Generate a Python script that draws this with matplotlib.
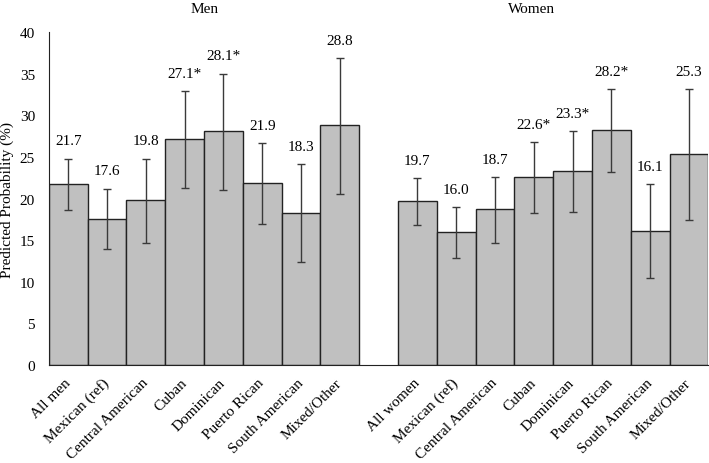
import matplotlib
matplotlib.use("Agg")
import matplotlib.pyplot as plt
import numpy as np

plt.rcParams["font.family"] = ["Liberation Serif", "DejaVu Serif"]

groups = ["All", "Mexican (ref)", "Central American", "Cuban", "Dominican",
          "Puerto Rican", "South American", "Mixed/Other"]
men_labels = ["All men"] + groups[1:]
women_labels = ["All women"] + groups[1:]

men_vals = [21.7, 17.6, 19.8, 27.1, 28.1, 21.9, 18.3, 28.8]
men_lo = [18.6, 13.9, 14.7, 21.3, 21.0, 17.0, 12.4, 20.6]
men_hi = [24.8, 21.2, 24.8, 32.9, 35.0, 26.7, 24.1, 36.9]
men_sig = [False, False, False, True, True, False, False, False]

women_vals = [19.7, 16.0, 18.7, 22.6, 23.3, 28.2, 16.1, 25.3]
women_lo = [16.8, 12.9, 14.7, 18.3, 18.4, 23.2, 10.4, 17.4]
women_hi = [22.5, 19.0, 22.6, 26.8, 28.1, 33.1, 21.7, 33.1]
women_sig = [False, False, False, True, True, True, False, False]

fig = plt.figure(figsize=(7.09, 4.64), dpi=100)
ax = fig.add_axes([0.069, 0.211, 0.93, 0.718])

x_men = np.arange(len(men_vals))
x_women = np.arange(len(women_vals)) + len(men_vals) + 1
x_all = np.concatenate([x_men, x_women])
vals = np.array(men_vals + women_vals)
lo = np.array(men_lo + women_lo)
hi = np.array(men_hi + women_hi)
sig = men_sig + women_sig
labels = men_labels + women_labels

ax.bar(x_all, vals, width=1.0, color="#c0c0c0", edgecolor="#222222", linewidth=1.0)
ax.errorbar(x_all, vals, yerr=[vals - lo, hi - vals], fmt="none",
            ecolor="#3a3a3a", elinewidth=1.0, capsize=3, capthick=1.0)

for xi, v, h, s in zip(x_all, vals, hi, sig):
    ax.annotate(f"{v:.1f}" + ("*" if s else ""), (xi, h), xytext=(0, 8),
                textcoords="offset points", ha="center", va="bottom", fontsize=11)

ax.set_xlim(-0.5, x_all[-1] + 0.5)
ax.set_ylim(0, 40)
ax.set_yticks(np.arange(0, 41, 5))
ax.tick_params(axis="y", length=0, labelsize=11, pad=10)
ax.tick_params(axis="x", length=0, labelsize=11, pad=11)
ax.set_xticks(x_all)
ax.set_xticklabels(labels, rotation=45, ha="right", va="center", rotation_mode="anchor")
ax.set_ylabel("Predicted Probability (%)", fontsize=11, labelpad=4)
for side in ["top", "right"]:
    ax.spines[side].set_visible(False)
ax.spines["left"].set_color("#222222")
ax.spines["bottom"].set_color("#222222")

fig.text(0.288, 0.993, "Men", ha="center", va="top", fontsize=11)
fig.text(0.750, 0.993, "Women", ha="center", va="top", fontsize=11)

fig.savefig("out.png", dpi=100)
